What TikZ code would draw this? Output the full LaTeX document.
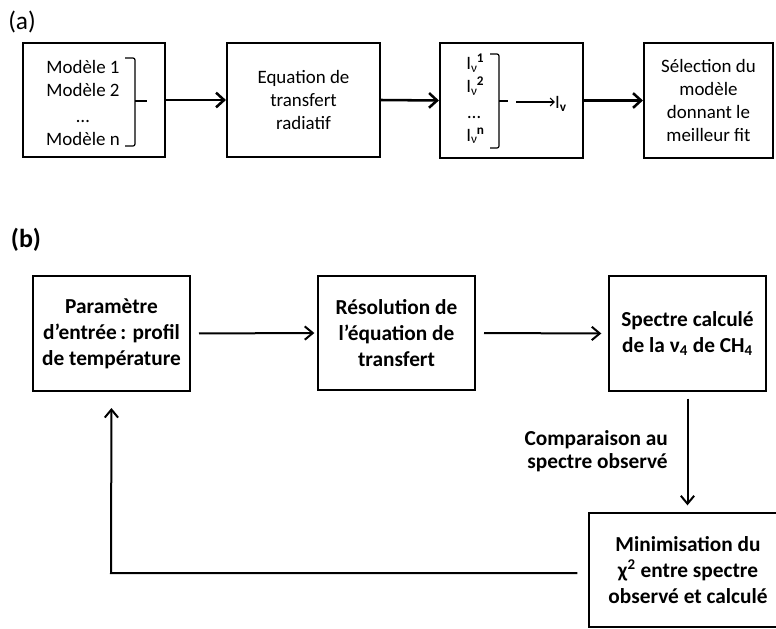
\documentclass[tikz,border=0pt]{standalone}
\usepackage{fontspec}
\setmainfont{Carlito}
\usetikzlibrary{arrows.meta}
\newcommand\Inu[1]{I\textsubscript{ν}\kern-0.6pt\textsuperscript{\textbf{#1}}}
\begin{document}
\begin{tikzpicture}[x=0.75pt,y=-0.75pt,
  abox/.style={draw,line width=1.6pt,inner sep=0pt,align=center,
    font=\fontsize{14.2}{17.2}\selectfont},
  bbox/.style={draw,line width=1.5pt,inner sep=0pt,align=center,
    font=\fontsize{16}{19.4}\selectfont\bfseries},
  atxt/.style={inner sep=0pt,align=center,font=\fontsize{14.2}{17.2}\selectfont},
  btxt/.style={inner sep=0pt,align=right,font=\fontsize{16}{17}\selectfont\bfseries},
  aarr/.style={line width=1.9pt,-{Straight Barb[length=6pt,width=11pt,line width=1.9pt]}},
  barr/.style={line width=1.5pt,-{Straight Barb[length=6pt,width=10pt,line width=1.5pt]}},
  brk/.style={line width=0.9pt,rounded corners=1.5pt}]
\useasboundingbox (0,0) rectangle (776,629);
% ---------------- (a) ----------------
\node[inner sep=0pt,font=\fontsize{19}{22}\selectfont] (la) at (22,22) {(a)};
\node[abox,minimum width=142*0.75pt,minimum height=114*0.75pt] (a1) at (94,100) {};
\node[atxt] (mods) at (83,103) {Modèle 1\\Modèle 2\\[2pt]…\\Modèle n};
\draw[brk] (125,58) -- (135,58) -- (135,146) -- (125,146);
\draw[brk] (135,101) -- (147,101);
\node[abox,minimum width=153*0.75pt,minimum height=114*0.75pt] (a2) at (303.5,100)
  {Equation de\\transfert\\radiatif};
\node[abox,minimum width=143*0.75pt,minimum height=115*0.75pt] (a3) at (511.5,100.5) {};
\node[atxt,anchor=west,align=left] (ilist) at (466,99)
  {\Inu{1}\\\Inu{2}\\[2pt]\hspace{1pt}…\\\Inu{n}};
\draw[brk] (490,54) -- (499,54) -- (499,148) -- (490,148);
\draw[brk] (499,101) -- (508,101);
\node[atxt] (iv) at (561,104) {I\textsubscript{\textbf{v}}};
\coordinate (bt) at (516,102);
\draw[line width=0.8pt,-{Straight Barb[length=3pt,width=6pt]}] (bt) -- (bt -| iv.west);
\node[abox,minimum width=129*0.75pt,minimum height=115*0.75pt] (a4) at (708.5,100.5)
  {Sélection du\\modèle\\donnant le\\meilleur fit};
\draw[aarr] (a1.east) -- (a2.west);
\draw[aarr] (a2.east) -- (a3.west);
\draw[aarr] (a3.east) -- (a4.west);
% ---------------- (b) ----------------
\node[inner sep=0pt,font=\fontsize{19.5}{22}\selectfont\bfseries] (lb) at (26,240) {(b)};
\node[bbox,minimum width=157*0.75pt,minimum height=115*0.75pt] (b1) at (111.5,333.5)
  {Paramètre\\d’entrée\,: profil\\de température};
\node[bbox,minimum width=157*0.75pt,minimum height=114*0.75pt] (b2) at (396.5,333)
  {Résolution de\\l’équation de\\transfert};
\node[bbox,minimum width=157*0.75pt,minimum height=115*0.75pt] (b3) at (687.5,333.5)
  {Spectre calculé\\de la ν\textsubscript{4} de CH\textsubscript{4}};
\node[bbox,minimum width=198*0.75pt,minimum height=114*0.75pt] (b5) at (688,570)
  {Minimisation du\\χ\textsuperscript{2} entre spectre\\observé et calculé};
\node[btxt,anchor=east] (cmp) at (668,451) {Comparaison au\\spectre observé};
\draw[barr,shorten <=6pt,shorten >=2pt] (b1.east) -- (b2.west);
\draw[barr,shorten <=6pt,shorten >=5pt] (b2.east) -- (b3.west);
\draw[barr,shorten <=5pt,shorten >=5pt] (b3.south) -- (b5.north -| b3.south);
\coordinate (corner) at (111,573);
\draw[barr,shorten <=8pt,shorten >=12pt] (b5.west |- corner) -- (corner) -- (b1.south);
\end{tikzpicture}
\end{document}
